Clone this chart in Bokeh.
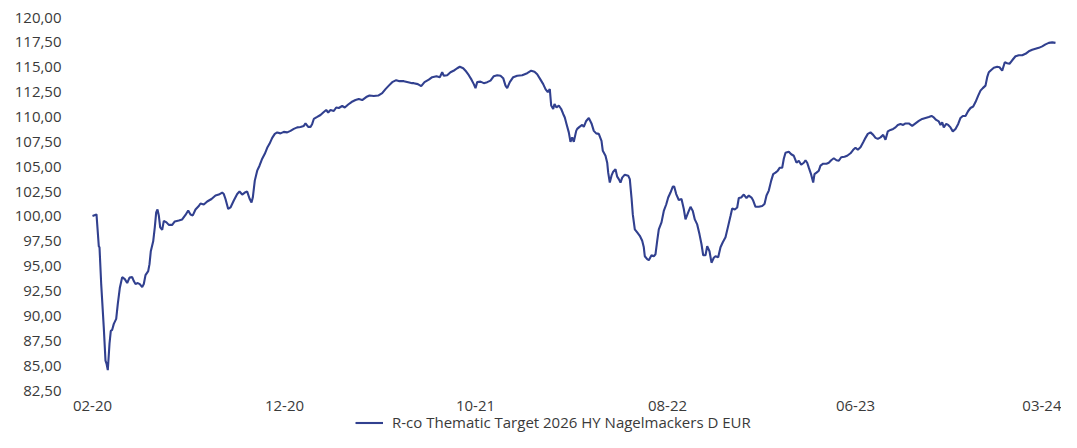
from bokeh.plotting import figure
from bokeh.layouts import column
from bokeh.models import FixedTicker, Legend, LegendItem, Range1d
from bokeh.embed import file_html
from bokeh.resources import INLINE

# ---- data ----
series_name = "R-co Thematic Target 2026 HY Nagelmackers D EUR"

t = [0, 4, 6.3, 7, 8.7, 11.3, 13, 14, 15.3, 17, 18.3, 19.7, 21.3, 23.7, 25.3, 27.3, 29.7, 32.3,
     34.7, 37, 39.7, 41.3, 43, 45.3, 47.3, 49.7, 51.3, 53, 55.7, 57, 58.3, 60.7, 62.3, 63.7, 65,
     66.3, 67.7, 69.7, 71.3, 74, 76.3, 79.7, 82.3, 86.3, 89.7, 93, 95.7, 98, 100.3, 103, 106.3,
     108, 111.3, 114.7, 119, 123, 126.3, 129.7, 131.3, 133, 135.7, 138, 141.3, 144.7, 147, 149.7,
     152.3, 154.7, 157, 159, 160.3, 162.3, 164.7, 167, 169.7, 172.3, 174.7, 177, 179.7, 182.3,
     184.7, 188, 191.3, 194.7, 198, 201.3, 204.7, 208, 211.3, 213, 215.7, 218, 219.7, 221.3,
     224.7, 228, 231.3, 233.7, 235.7, 238, 241.3, 243.7, 246.3, 249.7, 252.3, 255.7, 259, 263,
     266.3, 269.7, 273.7, 277, 281.3, 285.7, 289.7, 293, 296.3, 299.7, 303.7, 307, 311.3, 315.7,
     319.7, 321.3, 325.3, 328.7, 332, 336.3, 339.7, 344, 347.3, 349.7, 351.3, 354.7, 358, 362,
     364.7, 367.3, 370.7, 373, 376.3, 379, 381.3, 383, 384.7, 388, 391.3, 394.7, 398, 401.3,
     404.7, 408, 410.7, 413, 414.7, 417.3, 420.7, 424.7, 429.7, 434.7, 438.7, 442, 444.7, 448,
     450.7, 453, 455.3, 457.3, 458.7, 460.7, 462, 464, 466.3, 468.7, 470.7, 472.3, 474, 476.3,
     478, 479.7, 481.3, 483.7, 484.7, 487, 489.7, 491.3, 493.7, 496.3, 499, 501.3, 503.7, 506.3,
     509, 510.3, 513, 514.7, 515.7, 517.3, 519, 520.7, 523, 524.7, 526.3, 528, 529.7, 532.3,
     535.7, 537.3, 539, 540.3, 542.3, 544.7, 547.3, 549.7, 551.3, 552.3, 554.7, 556.3, 559,
     561.3, 563, 564.7, 566.3, 569, 571.3, 573.7, 575.7, 578, 580.3, 581.7, 583.7, 586.3, 589,
     591.3, 593, 595.7, 598, 600.3, 602.3, 604.7, 607, 609, 610.7, 613, 614.7, 617, 619, 621.3,
     623, 625.7, 628, 630.3, 633, 635.7, 638, 639.7, 642.3, 644.7, 646.3, 648.7, 651.3, 654,
     656.3, 659, 660.7, 663, 666.3, 669.7, 672, 674, 676.3, 678.7, 680.7, 683, 685.3, 687.3,
     689.7, 691.3, 693, 696.3, 698.7, 701.3, 704, 706.3, 708.7, 711.3, 713, 714.7, 716.3, 718.7,
     720.7, 722, 724, 726.3, 728, 730.7, 734, 736.3, 738.7, 741.3, 744, 746.3, 748.7, 752,
     754.7, 758, 760.7, 763, 765.3, 768, 770.7, 773, 775.3, 778, 780.7, 783, 785.3, 788, 790.7,
     793, 795.3, 798, 800.7, 803, 805.3, 808, 810.7, 813, 816.3, 819.7, 823, 826.3, 829.7, 833,
     836.3, 839, 841.3, 843.7, 846.3, 848, 849.7, 851.3, 853.7, 855.7, 858, 860.3, 863, 865.7,
     868, 870.3, 873, 875.7, 878, 880.7, 883, 885.7, 888, 890.3, 893, 894.7, 896.3, 899, 901.3,
     904.7, 907, 909.7, 912.3, 914.7, 917, 919.7, 923, 926.3, 929.7, 933, 936.3, 939.7, 943,
     946.3, 949.7, 953, 956.3, 959.7, 963]

nav = [100.05, 100.2, 97.0, 96.9, 93.2, 88.8, 85.5, 85.2, 84.55, 87.2, 88.5, 88.6, 89.2, 89.7,
       91.2, 92.8, 93.9, 93.7, 93.3, 93.85, 93.9, 93.5, 93.2, 93.3, 93.2, 92.9, 93.2, 94.1, 94.5,
       95.2, 96.5, 97.5, 98.9, 100.4, 100.7, 100.1, 98.9, 98.65, 99.55, 99.4, 99.15, 99.15, 99.5,
       99.6, 99.7, 100.15, 100.6, 100.2, 100.1, 100.7, 101.05, 101.3, 101.2, 101.5, 101.75, 102.1,
       102.2, 102.4, 102.25, 101.75, 100.75, 100.9, 101.6, 102.25, 102.5, 102.2, 102.4, 102.5,
       101.8, 101.4, 101.9, 103.6, 104.6, 105.1, 105.8, 106.3, 106.9, 107.3, 107.9, 108.3,
       108.45, 108.35, 108.5, 108.45, 108.6, 108.8, 108.95, 109.0, 109.1, 109.35, 109.0, 109.0,
       109.3, 109.8, 110.0, 110.2, 110.5, 110.7, 110.45, 110.7, 110.6, 110.95, 110.9, 111.1,
       110.95, 111.25, 111.5, 111.7, 111.8, 111.7, 112.0, 112.15, 112.1, 112.15, 112.4, 112.8,
       113.15, 113.5, 113.7, 113.6, 113.6, 113.5, 113.4, 113.4, 113.3, 113.1, 113.5, 113.75,
       114.0, 114.1, 114.0, 114.5, 114.15, 114.2, 114.5, 114.7, 114.9, 115.05, 114.9, 114.65,
       114.2, 113.75, 113.3, 112.9, 113.5, 113.55, 113.4, 113.5, 113.65, 114.1, 114.2, 114.15,
       113.9, 113.15, 112.9, 113.5, 114.0, 114.15, 114.2, 114.4, 114.65, 114.55, 114.3, 113.75,
       113.3, 112.8, 112.5, 112.8, 111.15, 110.8, 111.3, 110.95, 111.15, 110.8, 110.3, 109.95,
       109.3, 108.45, 107.5, 107.95, 107.5, 108.6, 108.8, 109.0, 109.2, 109.0, 109.6, 109.9,
       109.35, 108.6, 108.35, 108.3, 107.6, 106.6, 106.1, 105.4, 104.4, 103.4, 104.1, 104.5,
       104.75, 104.0, 103.75, 103.4, 103.9, 104.2, 104.1, 103.75, 101.9, 100.2, 98.7, 98.4,
       98.05, 97.55, 96.9, 96.0, 95.7, 95.6, 96.1, 96.0, 96.2, 97.55, 98.7, 99.4, 100.55, 101.2,
       101.9, 102.4, 103.0, 103.0, 102.25, 101.65, 101.75, 100.75, 99.7, 100.4, 100.97, 100.55,
       99.7, 99.2, 98.2, 97.2, 96.1, 96.1, 97.0, 96.5, 95.35, 95.85, 96.0, 95.9, 96.9, 97.4,
       97.9, 99.05, 100.05, 100.8, 100.7, 100.9, 101.85, 101.9, 102.2, 101.85, 102.1, 101.9,
       101.6, 100.97, 100.97, 101.05, 101.25, 102.1, 102.6, 103.6, 104.25, 104.4, 104.6, 104.9,
       104.9, 105.8, 106.4, 106.5, 106.25, 106.1, 105.4, 105.6, 105.2, 105.4, 105.65, 105.4,
       104.9, 104.2, 103.4, 104.25, 104.4, 104.6, 105.1, 105.3, 105.3, 105.4, 105.65, 105.85,
       105.65, 105.6, 105.95, 106.0, 106.1, 106.35, 106.7, 106.9, 106.7, 106.95, 107.45, 107.9,
       108.3, 108.45, 108.2, 107.9, 107.8, 107.95, 108.2, 107.7, 108.55, 108.7, 108.8, 108.95,
       109.2, 109.3, 109.2, 109.35, 109.35, 109.1, 109.35, 109.6, 109.8, 109.9, 110.0, 110.1,
       109.95, 109.7, 109.55, 109.2, 109.45, 108.95, 109.3, 109.2, 108.95, 108.55, 108.8, 109.3,
       109.9, 110.1, 110.1, 110.6, 110.9, 111.05, 111.5, 112.15, 112.65, 112.9, 113.15, 114.0,
       114.5, 114.75, 114.95, 115.05, 115.0, 114.65, 115.5, 115.4, 115.35, 115.7, 116.1, 116.2,
       116.2, 116.35, 116.6, 116.75, 116.85, 116.95, 117.1, 117.3, 117.45, 117.5, 117.45]

x_tick_pos = [0, 192, 383, 575, 763, 952]
x_tick_labels = ["02-20", "12-20", "10-21", "08-22", "06-23", "03-24"]
y_ticks = [82.5, 85.0, 87.5, 90.0, 92.5, 95.0, 97.5, 100.0, 102.5, 105.0, 107.5, 110.0,
           112.5, 115.0, 117.5, 120.0]

FONT = "Open Sans"
TXT = "#3a3a3a"
LINE = "#31408f"

# ---- main chart ----
p = figure(width=1061, height=413, output_backend="svg", toolbar_location=None,
           x_range=Range1d(-22, 969), y_range=Range1d(82.5, 120.0),
           min_border_left=70, min_border_right=0, min_border_top=17, min_border_bottom=0)
p.outline_line_color = None
p.background_fill_color = "white"
p.border_fill_color = "white"
p.grid.visible = False

r = p.line(t, nav, line_color=LINE, line_width=2.1)

p.xaxis.ticker = FixedTicker(ticks=x_tick_pos)
p.xaxis.major_label_overrides = {pos: lab for pos, lab in zip(x_tick_pos, x_tick_labels)}
p.yaxis.ticker = FixedTicker(ticks=y_ticks)
p.yaxis.major_label_overrides = {v: f"{v:.2f}".replace(".", ",") for v in y_ticks}

for ax in (p.xaxis, p.yaxis):
    ax.axis_line_color = None
    ax.major_tick_line_color = None
    ax.minor_tick_line_color = None
    ax.major_tick_out = 0
    ax.major_tick_in = 0
    ax.minor_tick_out = 0
    ax.major_label_text_font = FONT
    ax.major_label_text_font_size = "15px"
    ax.major_label_text_color = TXT
p.xaxis.major_label_standoff = 10
p.yaxis.major_label_standoff = 9

# ---- legend strip below the chart (its frame is aligned with the chart's frame) ----
q = figure(width=1061, height=19, output_backend="svg", toolbar_location=None,
           x_range=Range1d(0, 1), y_range=Range1d(0, 1),
           x_axis_location=None, y_axis_location=None,
           min_border_left=0, min_border_right=0, min_border_top=0, min_border_bottom=0)
q.grid.visible = False
q.outline_line_color = None
q.border_fill_color = "white"
# legend sample lies outside the strip's visible range; only its legend glyph shows
sample = q.line(x=[2, 3], y=[2, 2], line_color=LINE, line_width=2.1)

legend = Legend(items=[LegendItem(label=series_name, renderers=[sample])],
                location=(285, 0), orientation="horizontal",
                label_text_font=FONT, label_text_font_size="15px", label_text_color=TXT,
                glyph_width=28, glyph_height=19, label_height=19, label_standoff=9,
                padding=0, margin=0, spacing=0, border_line_color=None,
                background_fill_alpha=0)
q.add_layout(legend, "center")

layout = column(p, q, spacing=0)
open("out.html", "w").write(file_html(layout, INLINE))
